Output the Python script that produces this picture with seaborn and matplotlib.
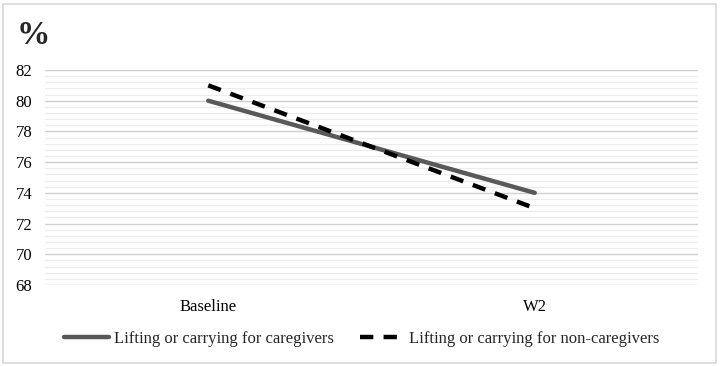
import matplotlib
matplotlib.use("Agg")
import matplotlib.pyplot as plt
import seaborn as sns
import pandas as pd
import numpy as np
from matplotlib.patches import Rectangle
from matplotlib.ticker import MultipleLocator

categories = ["Baseline", "W2"]
caregivers = [80, 74]
non_caregivers = [81, 73]
series_names = ["Lifting or carrying for caregivers", "Lifting or carrying for non-caregivers"]
y_ticks = [68, 70, 72, 74, 76, 78, 80, 82]

df = pd.DataFrame({
    "time": categories * 2,
    "value": caregivers + non_caregivers,
    "series": [series_names[0]] * 2 + [series_names[1]] * 2,
})

sns.set_theme(style="white")
plt.rcParams["font.family"] = ["Liberation Serif", "DejaVu Serif"]

fig = plt.figure(figsize=(7.2, 3.66), dpi=100)
ax = fig.add_axes([45 / 720, 1 - 285 / 366, (698 - 45) / 720, (285 - 70) / 366])

sns.lineplot(data=df, x="time", y="value", hue="series", style="series",
             palette={series_names[0]: "#595959", series_names[1]: "#000000"},
             dashes={series_names[0]: "", series_names[1]: (3, 2.3)},
             linewidth=3.2, ax=ax, legend=True, sort=False)

ax.set_xlim(-0.5, 1.5)
ax.set_ylim(68, 82)
ax.set_yticks(y_ticks)
ax.yaxis.set_minor_locator(MultipleLocator(0.4))
ax.grid(True, which="major", axis="y", color="#d0d0d0", linewidth=1.0)
ax.grid(True, which="minor", axis="y", color="#ececec", linewidth=0.9)
ax.set_axisbelow(True)
for s in ax.spines.values():
    s.set_visible(False)
ax.tick_params(axis="both", length=0, labelsize=12, colors="#000000")
ax.tick_params(axis="y", pad=9)
ax.tick_params(axis="x", pad=10)
ax.set_xlabel("")
ax.set_ylabel("")

handles, labels = ax.get_legend_handles_labels()
ax.legend_.remove()
fig.legend(handles, labels, loc="center", bbox_to_anchor=(362 / 720, 1 - 339 / 366),
           ncol=2, frameon=False, fontsize=12, handlelength=2.65, columnspacing=1.6,
           handletextpad=0.3)

fig.text(17 / 720, 1 - 35 / 366, "%", fontsize=24, fontweight="bold", va="center", ha="left")

fig.patches.append(Rectangle((3 / 720, 3 / 366), 713 / 720, 359 / 366, transform=fig.transFigure,
                             fill=False, edgecolor="#d9d9d9", linewidth=1.2))

fig.savefig("out.png", dpi=100)
